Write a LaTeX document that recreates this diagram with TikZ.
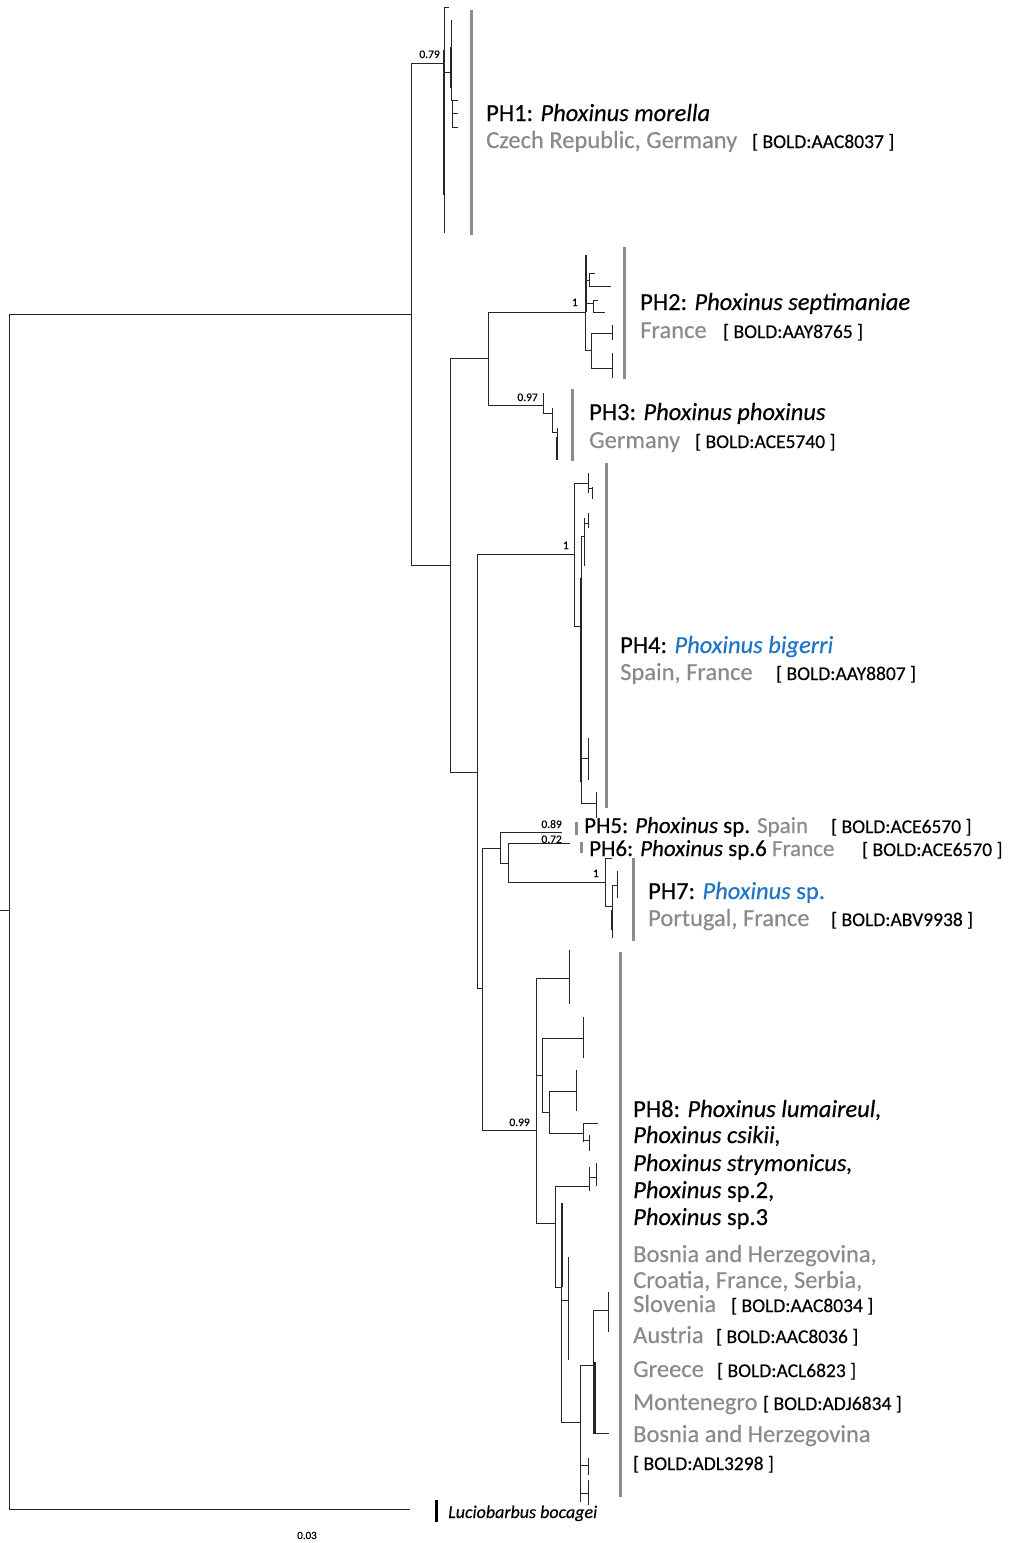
\documentclass[tikz,border=0pt]{standalone}
\usepackage{fontspec}
\setmainfont{Carlito}[FakeBold=0.35]
\usepackage{tikz}
\definecolor{geogray}{HTML}{8A8A8A}
\definecolor{bargray}{HTML}{8C8C8C}
\definecolor{spblue}{HTML}{1F74C6}
\newcommand{\Phx}{\textit{Phoxinus}}

\begin{document}
\begin{tikzpicture}[x=1pt,y=-1pt,
		br/.style={line width=1pt, black!85},
		thk/.style={br, line width=2pt},
		cladebar/.style={draw=bargray, line width=3pt},
		lab/.style={anchor=base west, inner sep=0pt, font=\fontsize{24.5}{28}\selectfont},
		geo/.style={lab, text=geogray},
		bin/.style={anchor=base west, inner sep=0pt, font=\fontsize{19.5}{22}\selectfont},
		sup/.style={anchor=base east, inner sep=0pt, font=\fontsize{11.5}{13}\selectfont}]
	\useasboundingbox (0,0) rectangle (1010,1543);

	% backbone
	\coordinate (stub) at (0,910);
	\coordinate (root) at (9,910);
	\coordinate (ing) at (411,314);
	\coordinate (out) at (410,1509);
	\coordinate (c1) at (444,63);
	\coordinate (nA) at (450,565);
	\coordinate (nB) at (488,358);
	\coordinate (c2) at (585,312);
	\coordinate (c3) at (543,405);
	\coordinate (nC) at (477,772);
	\coordinate (c4) at (574,554);
	\coordinate (nD) at (482,988);
	\coordinate (nE) at (500,848);
	\coordinate (c5) at (562,832);
	\coordinate (nF) at (508,863);
	\coordinate (c6) at (570,843);
	\coordinate (c7) at (605,882);
	\coordinate (c8) at (536,1130);

	\draw[br] (stub) -- (root);
	\draw[br] (root) |- (ing);
	\draw[br] (root) |- (out);
	\draw[br] (ing) |- (c1);
	\draw[br] (ing) |- (nA);
	\draw[br] (nA) |- (nB);
	\draw[br] (nA) |- (nC);
	\draw[br] (nB) |- (c2);
	\draw[br] (nB) |- (c3);
	\draw[br] (nC) |- (c4);
	\draw[br] (nC) |- (nD);
	\draw[br] (nD) |- (nE);
	\draw[br] (nD) |- (c8);
	\draw[br] (nE) |- (c5);
	\draw[br] (nE) |- (nF);
	\draw[br] (nF) |- (c6);
	\draw[br] (nF) |- (c7);

	% tips PH1
	\draw[br] (444,7) -- (449,7) (444,7) -- (444,233) (444,72) -- (451,72) (451,20) -- (451,100)
		(451,100) -- (458,100) (452,100) -- (452,127) (452,113) -- (458,113) (452,127) -- (458,127);
	\draw[thk] (444,50) -- (444,195) (451,47) -- (451,88);
	% tips PH2
	\draw[br] (585,255) -- (585,350) (586,280) -- (589,280) (589,273) -- (589,286) (589,273) -- (595,273)
		(589,286) -- (611,286) (586,303) -- (593,303) (593,300) -- (593,312) (593,300) -- (598,300)
		(593,312) -- (605,312) (585,350) -- (591,350) (591,333) -- (591,368) (591,333) -- (612,333)
		(612,325) -- (612,340) (591,368) -- (612,368) (612,353) -- (612,378);
	\draw[thk] (586,255) -- (586,312);
	% tips PH3
	\draw[br] (543,393) -- (543,413) (543,413) -- (552,413) (552,408) -- (552,432) (552,432) -- (557,432)
		(557,428) -- (557,460);
	\draw[thk] (557,437) -- (557,460);
	% tips PH4
	\draw[br] (574,483) -- (574,626) (574,483) -- (588,483) (588,473) -- (588,493) (588,488) -- (592,488)
		(592,487) -- (592,499) (574,626) -- (581,626) (581,536) -- (581,803) (581,536) -- (584,536)
		(584,518) -- (584,566) (584,523) -- (588,523) (588,513) -- (588,528) (581,758) -- (588,758)
		(588,738) -- (588,780) (581,803) -- (596,803) (596,792) -- (596,818);
	\draw[thk] (581,578) -- (581,782);
	% tips PH7
	\draw[br] (605,858) -- (605,906) (605,858) -- (612,858) (605,906) -- (612,906) (612,885) -- (612,938)
		(612,885) -- (617,885) (617,871) -- (617,898);
	\draw[thk] (612,910) -- (612,930);
	% tips PH8
	\draw[br] (536,978) -- (536,1223) (536,978) -- (569,978) (569,950) -- (569,1004)
		(536,1075) -- (542,1075) (542,1038) -- (542,1112) (542,1038) -- (583,1038) (583,1017) -- (583,1058)
		(542,1112) -- (549,1112) (549,1091) -- (549,1133) (549,1091) -- (576,1091) (576,1070) -- (576,1111)
		(549,1133) -- (583,1133) (583,1123) -- (583,1142) (583,1123) -- (598,1123) (583,1140) -- (589,1140)
		(589,1135) -- (589,1151)
		(536,1223) -- (555,1223) (555,1186) -- (555,1287) (555,1186) -- (589,1186) (589,1167) -- (589,1191)
		(589,1177) -- (596,1177) (596,1163) -- (596,1186)
		(555,1287) -- (561,1287) (561,1203) -- (561,1422) (561,1300) -- (568,1300) (568,1257) -- (568,1360)
		(561,1422) -- (580,1422) (580,1365) -- (580,1502) (580,1365) -- (593,1365) (593,1310) -- (593,1433)
		(593,1310) -- (608,1310) (608,1292) -- (608,1332) (593,1433) -- (609,1433)
		(580,1465) -- (588,1465) (588,1458) -- (588,1475) (580,1493) -- (588,1493) (588,1480) -- (588,1505);
	\draw[thk] (562,1203) -- (562,1287) (595,1362) -- (595,1433);

	% support values
	\node[sup] (s1) at (440,58) {0.79};
	\node[sup] (s2) at (578,306) {1};
	\node[sup] (s3) at (538,401) {0.97};
	\node[sup] (s4) at (569,549) {1};
	\node[sup] (s5) at (562,828) {0.89};
	\node[sup] (s6) at (562,843) {0.72};
	\node[sup] (s7) at (599,877) {1};
	\node[sup] (s8) at (530,1126) {0.99};

	% clade bars
	\draw[cladebar] (471,10) -- (471,235);
	\draw[cladebar] (624,247) -- (624,379);
	\draw[cladebar] (572,389) -- (572,461);
	\draw[cladebar] (606,463) -- (606,808);
	\draw[cladebar] (576,822) -- (576,835);
	\draw[cladebar] (581,842) -- (581,853);
	\draw[cladebar] (633,858) -- (633,941);
	\draw[cladebar] (620,952) -- (620,1497);
	\draw[line width=3pt] (436,1500) -- (436,1522);

	% labels
	\node[lab] (ph1) at (486,121) {PH1: \textit{Phoxinus morella}};
	\node[geo] (ph1geo) at (486,148) {Czech Republic, Germany};
	\node[bin] (ph1bin) at (752,148) {[ BOLD:AAC8037 ]};

	\node[lab] (ph2) at (640,310) {PH2: \textit{Phoxinus septimaniae}};
	\node[geo] (ph2geo) at (640,338) {France};
	\node[bin] (ph2bin) at (723,338) {[ BOLD:AAY8765 ]};

	\node[lab] (ph3) at (589,420) {PH3: \textit{Phoxinus phoxinus}};
	\node[geo] (ph3geo) at (589,448) {Germany};
	\node[bin] (ph3bin) at (695,448) {[ BOLD:ACE5740 ]};

	\node[lab] (ph4) at (620,653) {PH4: {\color{spblue}\textit{Phoxinus bigerri}}};
	\node[geo] (ph4geo) at (620,680) {Spain, France};
	\node[bin] (ph4bin) at (776,680) {[ BOLD:AAY8807 ]};

	\node[lab, font=\fontsize{23}{26}\selectfont] (ph5) at (584,833) {PH5: \Phx\ sp. {\color{geogray}Spain}};
	\node[bin] (ph5bin) at (831,833) {[ BOLD:ACE6570 ]};
	\node[lab, font=\fontsize{23}{26}\selectfont] (ph6) at (589,856) {PH6: \Phx\ sp.6 {\color{geogray}France}};
	\node[bin] (ph6bin) at (862,856) {[ BOLD:ACE6570 ]};

	\node[lab] (ph7) at (648,899) {PH7: {\color{spblue}\Phx\ sp.}};
	\node[geo] (ph7geo) at (648,926) {Portugal, France};
	\node[bin] (ph7bin) at (831,926) {[ BOLD:ABV9938 ]};

	\node[lab] (ph8a) at (633,1117) {PH8: \textit{Phoxinus lumaireul,}};
	\node[lab] (ph8b) at (633,1143) {\textit{Phoxinus csikii,}};
	\node[lab] (ph8c) at (633,1171) {\textit{Phoxinus strymonicus,}};
	\node[lab] (ph8d) at (633,1198) {\Phx\ sp.2,};
	\node[lab] (ph8e) at (633,1225) {\Phx\ sp.3};
	\node[geo] (ph8geoa) at (633,1262) {Bosnia and Herzegovina,};
	\node[geo] (ph8geob) at (633,1288) {Croatia, France, Serbia,};
	\node[geo] (ph8geoc) at (633,1312) {Slovenia};
	\node[bin] (ph8bina) at (731,1312) {[ BOLD:AAC8034 ]};
	\node[geo] (ph8geod) at (633,1343) {Austria};
	\node[bin] (ph8binb) at (716,1343) {[ BOLD:AAC8036 ]};
	\node[geo] (ph8geoe) at (633,1377) {Greece};
	\node[bin] (ph8binc) at (717,1377) {[ BOLD:ACL6823 ]};
	\node[geo] (ph8geof) at (633,1410) {Montenegro};
	\node[bin] (ph8bind) at (763,1410) {[ BOLD:ADJ6834 ]};
	\node[geo] (ph8geog) at (633,1442) {Bosnia and Herzegovina};
	\node[bin] (ph8bine) at (633,1470) {[ BOLD:ADL3298 ]};

	\node[anchor=base west, inner sep=0pt, font=\fontsize{18}{20}\selectfont\itshape] (outlab) at (448,1518) {Luciobarbus bocagei};
	\node[anchor=base, inner sep=0pt, font=\fontsize{11}{13}\selectfont] (scale) at (307,1539) {0.03};
\end{tikzpicture}
\end{document}
